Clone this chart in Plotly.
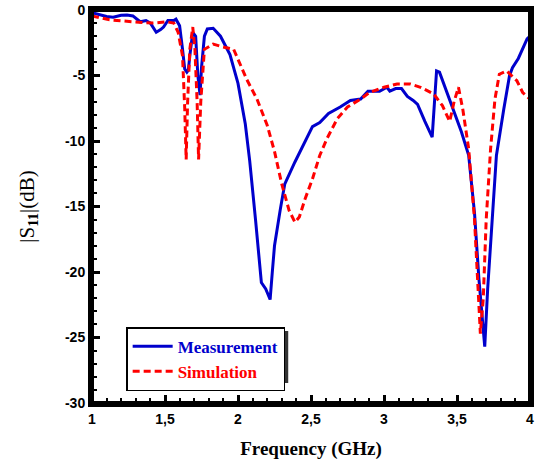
import plotly.graph_objects as go

meas_f = [1.0, 1.05, 1.10, 1.145, 1.20, 1.24, 1.28, 1.33, 1.37, 1.40, 1.44, 1.47, 1.49, 1.52, 1.56, 1.575,
          1.60, 1.62, 1.635, 1.65, 1.66, 1.67, 1.69, 1.71, 1.725, 1.74, 1.75, 1.77, 1.79, 1.83, 1.88, 1.945,
          2.0, 2.05, 2.08, 2.12, 2.14, 2.16, 2.19, 2.22, 2.235, 2.25, 2.29, 2.32, 2.39, 2.445, 2.49, 2.51,
          2.56, 2.62, 2.70, 2.77, 2.84, 2.89, 2.97, 3.02, 3.04, 3.08, 3.12, 3.16, 3.20, 3.23, 3.28, 3.33,
          3.34, 3.36, 3.38, 3.43, 3.47, 3.53, 3.58, 3.62, 3.65, 3.69, 3.71, 3.74, 3.77, 3.82, 3.86, 3.88,
          3.92, 3.98, 4.0]
meas_db = [-0.2, -0.35, -0.5, -0.55, -0.4, -0.38, -0.45, -0.9, -0.8, -1.0, -1.7, -1.5, -1.3, -0.8, -0.8, -0.7,
           -1.2, -3.0, -4.5, -4.75, -4.6, -3.5, -1.7, -2.0, -5.0, -6.5, -4.4, -2.0, -1.45, -1.4, -2.0, -3.4,
           -5.6, -8.7, -11.5, -16.0, -18.2, -20.8, -21.3, -22.1, -20.0, -18.0, -15.2, -13.3, -11.6, -10.4, -9.3, -8.9,
           -8.6, -7.9, -7.4, -6.9, -6.8, -6.2, -6.2, -5.9, -6.2, -6.0, -6.0, -6.6, -6.9, -7.2, -8.5, -9.7,
           -8.0, -4.65, -4.75, -6.3, -7.6, -9.3, -11.1, -15.5, -20.5, -25.7, -21.3, -16.0, -11.1, -7.6, -5.0, -4.4,
           -3.7, -2.2, -2.0]

sim_f = [1.0, 1.12, 1.28, 1.42, 1.51, 1.56, 1.59, 1.62, 1.635, 1.645, 1.655, 1.67, 1.69, 1.705, 1.72, 1.73,
         1.745, 1.77, 1.83, 1.89, 1.97, 2.06, 2.13, 2.2, 2.25, 2.30, 2.35, 2.39, 2.42, 2.46, 2.51, 2.56,
         2.61, 2.68, 2.75, 2.84, 2.90, 3.0, 3.09, 3.18, 3.25, 3.34, 3.40, 3.45, 3.48, 3.51, 3.54, 3.58,
         3.62, 3.66, 3.68, 3.70, 3.73, 3.76, 3.79, 3.84, 3.91, 3.95, 4.0]
sim_db = [-0.45, -0.75, -0.9, -1.0, -0.9, -1.0, -1.7, -3.5, -7.5, -11.4, -7.0, -3.0, -1.3, -3.0, -7.0, -11.4,
          -7.0, -3.0, -2.6, -2.8, -3.0, -5.3, -6.8, -8.8, -10.8, -13.3, -15.3, -16.2, -15.8, -14.4, -12.9, -11.1,
          -9.8, -8.3, -7.4, -6.8, -6.3, -5.9, -5.65, -5.65, -5.9, -6.4, -7.3, -8.5, -7.0, -5.9, -7.6, -10.6,
          -16.0, -24.7, -22.0, -16.0, -10.6, -6.8, -4.9, -4.65, -5.4, -6.3, -6.8]

x_ticks = [1, 1.5, 2, 2.5, 3, 3.5, 4]
x_ticktext = ["1", "1,5", "2", "2,5", "3", "3,5", "4"]
y_ticks = [0, -5, -10, -15, -20, -25, -30]
y_ticktext = ["0", "-5", "-10", "-15", "-20", "-25", "-30"]

fig = go.Figure()
fig.add_trace(go.Scatter(x=meas_f, y=meas_db, mode="lines",
                         name="<span style='color:#0000CC'><b>Measurement</b></span>",
                         line=dict(color="#0000CC", width=3)))
fig.add_trace(go.Scatter(x=sim_f, y=sim_db, mode="lines",
                         name="<span style='color:#FF0000'><b>Simulation</b></span>",
                         line=dict(color="#FF0000", width=3, dash="7px,4px")))

axis_common = dict(showline=True, linecolor="black", linewidth=4, mirror=True,
                   ticks="inside", tickwidth=2.5, ticklen=8, tickcolor="black",
                   showgrid=False, zeroline=False, automargin=False,
                   tickfont=dict(family="Liberation Sans", size=14, color="black", weight="bold"))

fig.update_xaxes(range=[1, 4], tickvals=x_ticks, ticktext=x_ticktext,
                 minor=dict(dtick=0.1, ticks="inside", ticklen=5, tickwidth=2, tickcolor="black"),
                 title=dict(text="<b>Frequency (GHz)</b>", standoff=17,
                            font=dict(family="Liberation Serif", size=19, color="black")),
                 **axis_common)
fig.update_yaxes(range=[-30, 0], tickvals=y_ticks, ticktext=y_ticktext,
                 minor=dict(dtick=1, ticks="inside", ticklen=5, tickwidth=2, tickcolor="black"),
                 title=dict(text="|S<sub><b>11</b></sub>|(dB)", standoff=26,
                            font=dict(family="Liberation Serif", size=21, color="black")),
                 **axis_common)

# plot frame
fig.add_shape(type="rect", xref="paper", yref="paper", x0=0, x1=1, y0=0, y1=1,
              line=dict(color="black", width=4), layer="above")
# legend shadow
fig.add_shape(type="rect", xref="paper", yref="paper",
              x0=0.087, x1=0.448, y0=0.051, y1=0.183,
              fillcolor="#333333", line=dict(width=0), layer="below")

fig.update_layout(
    width=542, height=463,
    margin=dict(l=92, r=12, t=10, b=60),
    plot_bgcolor="white", paper_bgcolor="white",
    legend=dict(x=0.078, y=0.193, xanchor="left", yanchor="top",
                bgcolor="white", bordercolor="black", borderwidth=1.5,
                font=dict(family="Liberation Serif", size=17),
                tracegroupgap=0, itemwidth=40),
)

fig.write_html("out.html", config={"displayModeBar": False},
               post_script="document.body.style.margin='0px';")
